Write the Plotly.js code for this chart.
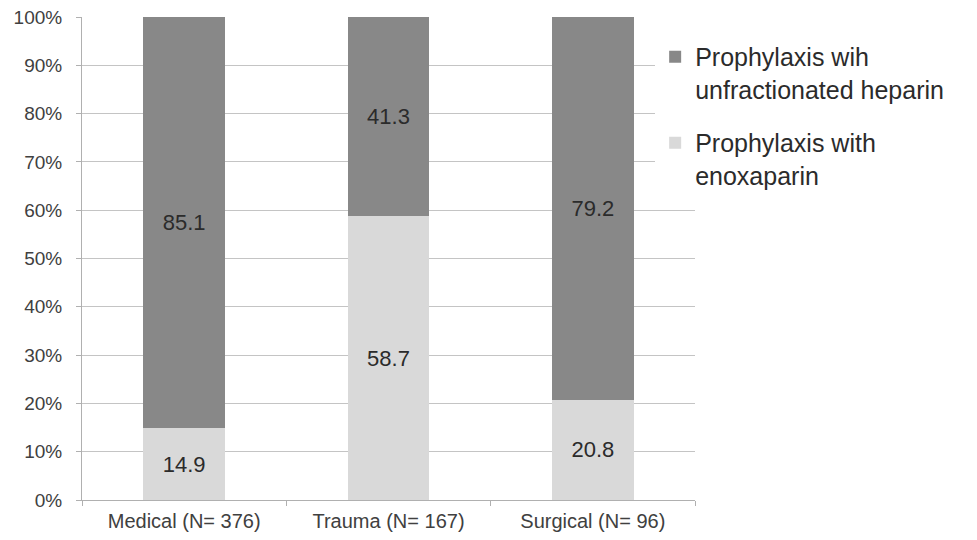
<!DOCTYPE html>
<html><head><meta charset="utf-8">
<script src="https://cdn.plot.ly/plotly-3.0.1.min.js"></script>
<style>body{margin:0;background:#fff}#c{width:977px;height:540px}</style>
</head><body><div id="c"></div>
<script>
const categories = ["Medical (N= 376)", "Trauma (N= 167)", "Surgical (N= 96)"];
const enoxaparin = [14.9, 58.7, 20.8];
const heparin = [85.1, 41.3, 79.2];
const yTickVals = [0,10,20,30,40,50,60,70,80,90,100];
const yTickText = yTickVals.map(v => v + "%");
const seriesNames = ["Prophylaxis with<br>enoxaparin", "Prophylaxis wih<br>unfractionated heparin"];

const font = "Liberation Sans, Arial, sans-serif";
const traces = [
  {type:"bar", x:categories, y:enoxaparin, name:seriesNames[0], legendgroup:"b", legendrank:2,
   marker:{color:"#d9d9d9"}, text:enoxaparin.map(v=>v.toFixed(1)),
   textposition:"inside", insidetextanchor:"middle",
   textfont:{family:font,size:22,color:"#2b2b2b"}, hoverinfo:"none"},
  {type:"bar", x:categories, y:heparin, name:seriesNames[1], legendgroup:"a", legendrank:1,
   marker:{color:"#888888"}, text:heparin.map(v=>v.toFixed(1)),
   textposition:"inside", insidetextanchor:"middle",
   textfont:{family:font,size:22,color:"#2b2b2b"}, hoverinfo:"none"}
];
const layout = {
  width:977, height:540,
  margin:{l:82, r:282, t:17, b:40},
  barmode:"stack", bargap:0.6,
  paper_bgcolor:"#fff", plot_bgcolor:"#fff",
  font:{family:font, color:"#404040"},
  xaxis:{tickfont:{size:20,color:"#404040"}, showline:true, linecolor:"#b0b0b0", linewidth:1,
         ticks:"outside", tickson:"boundaries", ticklen:5, tickcolor:"#b0b0b0", ticklabelstandoff:3},
  yaxis:{range:[0,100], tickvals:yTickVals, ticktext:yTickText,
         tickfont:{size:19,color:"#404040"}, showline:true, linecolor:"#b0b0b0", linewidth:1,
         gridcolor:"#c4c4c4", gridwidth:1, ticks:"outside", ticklen:5, tickcolor:"#b0b0b0",
         zeroline:false, ticklabelstandoff:10},
  legend:{x:0.935, y:0.965, xanchor:"left", yanchor:"top", bgcolor:"#ffffff",
          font:{size:25,color:"#2b2b2b"}, traceorder:"grouped", tracegroupgap:18,
          valign:"top", itemwidth:30},
  showlegend:true
};
Plotly.newPlot("c", traces, layout, {displayModeBar:false, staticPlot:true});
</script></body></html>
